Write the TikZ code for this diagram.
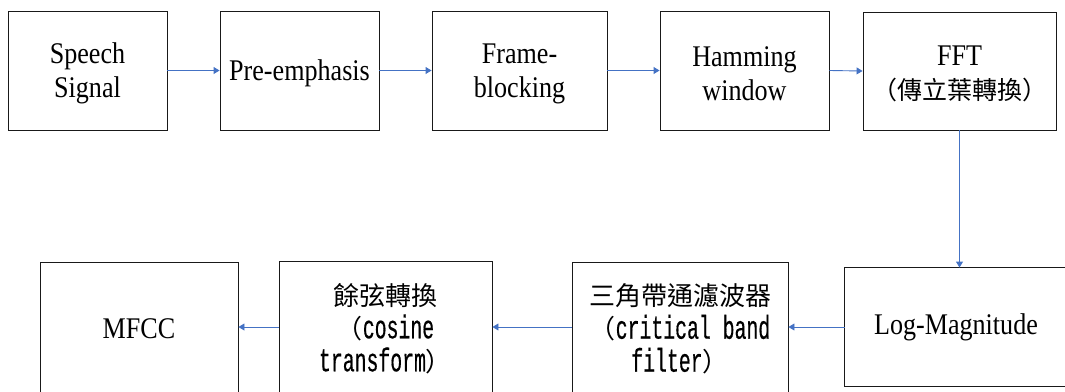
\documentclass[tikz,border=0pt]{standalone}
\usepackage{fontspec}
\setmainfont{Liberation Serif}[FakeStretch=0.87]
\newfontfamily\cjkf{Noto Sans CJK TC}
\newfontfamily\monof{Liberation Mono}[FakeStretch=0.6,FakeBold=0.4]
\usetikzlibrary{arrows.meta}
\definecolor{arrowblue}{RGB}{68,114,196}
\newcommand{\Mo}[1]{{\monof\fontsize{33}{33}\selectfont #1}}
\newcommand{\Cj}[1]{{\cjkf\fontsize{26}{33}\selectfont #1}}
\tikzset{
  boxline/.style={draw=black!90, line width=0.9pt},
  box/.style={boxline, align=center, inner sep=2pt,
    font=\fontsize{30}{34}\selectfont, minimum height=119pt},
  lowbox/.style={box, font=\fontsize{26}{33}\selectfont},
  arr/.style={draw=arrowblue, line width=0.9pt, -{Triangle[length=6pt,width=7pt]}}
}
\begin{document}
\begin{tikzpicture}[x=1pt,y=-1pt]
\useasboundingbox (0,0) rectangle (1065,391);
% top row
\node[box, minimum width=159pt] (sp) at (87.5,70.5) {\rule{0pt}{26pt}Speech\\Signal};
\node[box, minimum width=159pt] (pre) at (299.5,70.5) {\rule{0pt}{26pt}Pre-emphasis};
\node[box, minimum width=175pt] (fr) at (519.5,70.5) {\rule{0pt}{26pt}Frame-\\blocking};
\node[box, minimum width=169pt] (ham) at (744.5,70.5) {\rule{0pt}{26pt}Hamming\\window};
\node[box, minimum width=193pt, minimum height=118pt] (fft) at (959.5,71) {\rule{0pt}{26pt}FFT\\{\cjkf\fontsize{25}{33}\selectfont （傳立葉轉換）}};
% bottom row
\node[box, draw=none, minimum width=222pt, minimum height=118pt] (log) at (956,327) {Log-Magnitude};
\draw[boxline] ([xshift=20pt]log.north east) -- (log.north west) -- (log.south west) -- ([xshift=20pt]log.south east);
\node[lowbox, minimum width=216pt, minimum height=134pt] (crit) at (680,329) {\Cj{三角帶通濾波器}\\\Cj{（}\Mo{critical band}\\\Mo{filter}\Cj{）}};
\node[lowbox, minimum width=213pt, minimum height=135pt] (cos) at (385.5,328.5) {\Cj{餘弦轉換}\\\Cj{（}\Mo{cosine}\\\Mo{transform}\Cj{）}};
\node[box, minimum width=198pt, minimum height=134pt] (mfcc) at (139,329) {MFCC};
% connectors
\draw[arr] (sp.east) -- (pre.west);
\draw[arr] (pre.east) -- (fr.west);
\draw[arr] (fr.east) -- (ham.west);
\draw[arr] (ham.east) -- (fft.west);
\draw[arr] (fft.south) -- (fft.south |- log.north);
\draw[arr] (log.west) -- (log.west -| crit.east);
\draw[arr] (log.west -| crit.west) -- (log.west -| cos.east);
\draw[arr] (log.west -| cos.west) -- (log.west -| mfcc.east);
\end{tikzpicture}
\end{document}
